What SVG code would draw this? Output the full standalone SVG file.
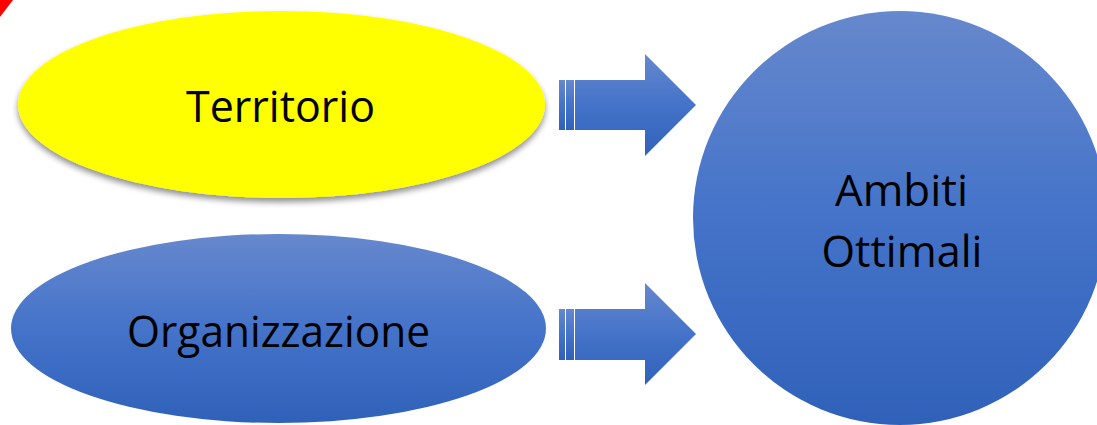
<svg xmlns="http://www.w3.org/2000/svg" width="1097" height="425" viewBox="0 0 1097 425">
  <style>
    .lbl { font-family: "Open Sans", "Liberation Sans", Arial, sans-serif; font-size: 43px; fill: #000000; text-anchor: middle; }
    .blue { fill: url(#blueGrad); }
    .stripe { fill: url(#blueGrad); }
  </style>
  <defs>
    <linearGradient id="blueGrad" x1="0" y1="0" x2="0" y2="1">
      <stop offset="0" stop-color="#6688cd"/>
      <stop offset="0.5" stop-color="#4473c9"/>
      <stop offset="1" stop-color="#3061b9"/>
    </linearGradient>
    <filter id="shadow" x="-10%" y="-20%" width="120%" height="140%">
      <feGaussianBlur in="SourceAlpha" stdDeviation="3"/>
      <feOffset dx="0" dy="4" result="b"/>
      <feComponentTransfer><feFuncA type="linear" slope="0.45"/></feComponentTransfer>
      <feMerge><feMergeNode/><feMergeNode in="SourceGraphic"/></feMerge>
    </filter>
  </defs>
  <rect width="1097" height="425" fill="#ffffff"/>
  <polygon points="0,0 13,0 0,17" fill="#ff0000"/>

  <g id="connectors">
    <g id="arrow-1">
      <rect class="stripe" x="559" y="80" width="6" height="50"/>
      <rect class="stripe" x="566" y="80" width="8" height="50"/>
      <path class="blue" d="M575,80 H645 V54 L696,105 L645,156 V130 H575 Z"/>
    </g>
    <g id="arrow-2">
      <rect class="stripe" x="559" y="309" width="6" height="51"/>
      <rect class="stripe" x="566" y="309" width="8" height="51"/>
      <path class="blue" d="M575,309 H645 V283 L696,334 L645,385 V360 H575 Z"/>
    </g>
  </g>

  <g id="territorio">
    <ellipse cx="281.5" cy="104.5" rx="263.5" ry="93.5" fill="#ffff00" filter="url(#shadow)"/>
    <text class="lbl" x="280.5" y="122" textLength="189" lengthAdjust="spacingAndGlyphs">Territorio</text>
  </g>

  <g id="organizzazione">
    <ellipse class="blue" cx="278.5" cy="328.5" rx="267.5" ry="94.5"/>
    <text class="lbl" x="278.5" y="347" textLength="303" lengthAdjust="spacingAndGlyphs">Organizzazione</text>
  </g>

  <g id="ambiti-ottimali">
    <circle class="blue" cx="900" cy="218" r="207"/>
    <text class="lbl" x="901.5" y="206" textLength="133" lengthAdjust="spacingAndGlyphs">Ambiti</text>
    <text class="lbl" x="902" y="267" textLength="161" lengthAdjust="spacingAndGlyphs">Ottimali</text>
  </g>
</svg>
